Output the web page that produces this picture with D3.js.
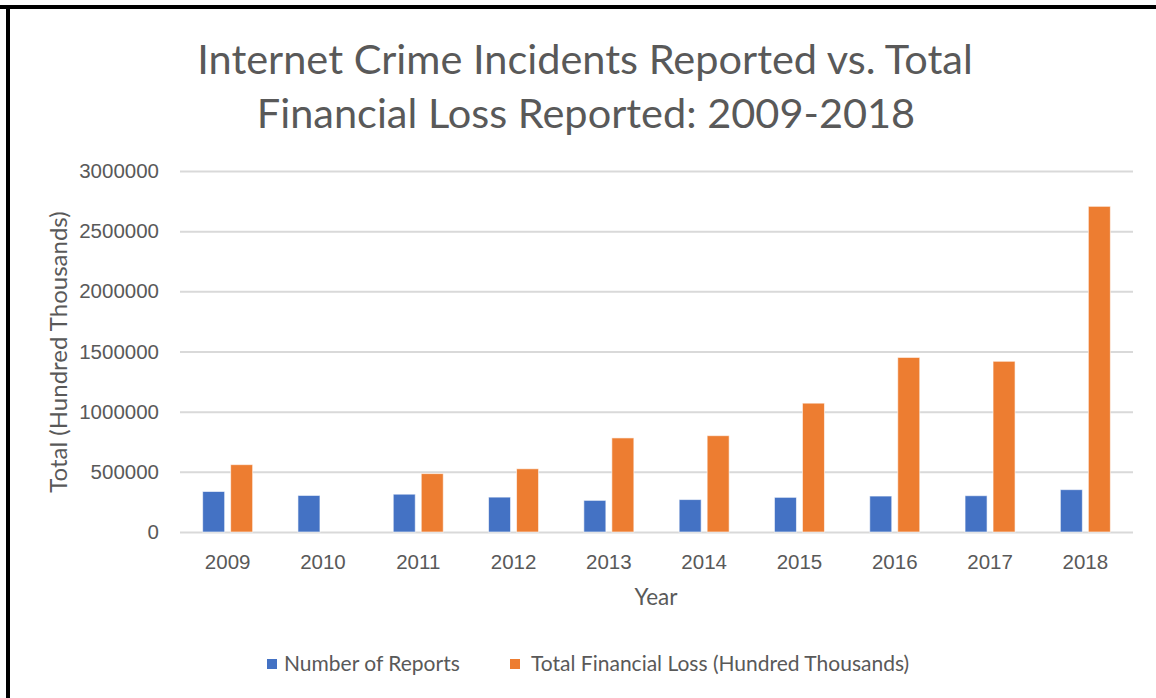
<!DOCTYPE html>
<html>
<head>
<meta charset="utf-8">
<script src="https://cdn.jsdelivr.net/npm/d3@7"></script>
<style>
  body { margin: 0; background: #fff; }
  svg { display: block; font-family: Lato, "Open Sans", sans-serif; }
  .tick text { fill: #595959; font-size: 20.5px; }
  .grid line { stroke: #d9d9d9; stroke-width: 2; }
  .grid .domain { display: none; }
</style>
</head>
<body>
<svg width="1156" height="698"></svg>
<script>
// chart values
const years = ['2009', '2010', '2011', '2012', '2013', '2014', '2015', '2016', '2017', '2018'];
const reports = [336655, 303809, 314246, 289874, 262813, 269422, 288012, 298728, 301580, 351937];
// no financial loss shown for 2010
const losses = [559700, null, 485300, 525400, 781800, 800500, 1070700, 1450700, 1418700, 2706400];
const seriesNames = ['Number of Reports', 'Total Financial Loss (Hundred Thousands)'];
const seriesColors = ['#4472c4', '#ed7d31'];
const yTicks = [0, 500000, 1000000, 1500000, 2000000, 2500000, 3000000];

const svg = d3.select('svg');

// frame lines (top and left only)
svg.append('rect').attr('x', 0).attr('y', 5).attr('width', 1156).attr('height', 4).attr('fill', '#000');
svg.append('rect').attr('x', 6).attr('y', 5).attr('width', 4).attr('height', 693).attr('fill', '#000');

// title
const title = svg.append('text')
    .attr('text-anchor', 'middle')
    .attr('fill', '#595959')
    .style('font-size', '41.5px');
title.append('tspan').attr('x', 585).attr('y', 74).text('Internet Crime Incidents Reported vs. Total');
title.append('tspan').attr('x', 586).attr('y', 128).text('Financial Loss Reported: 2009-2018');

const plot = { left: 180, right: 1133, top: 171, bottom: 532 };

const x0 = d3.scaleBand().domain(years).range([plot.left, plot.right]);
const groupW = 50;
const x1 = d3.scaleBand()
    .domain([0, 1])
    .range([x0.bandwidth() / 2 - groupW / 2, x0.bandwidth() / 2 + groupW / 2])
    .paddingInner(0.214);

const y = d3.scaleLinear().domain([0, 3000000]).range([plot.bottom, plot.top]);

// gridlines with tick labels
svg.append('g')
    .attr('class', 'grid')
    .attr('transform', `translate(${plot.left},0)`)
    .call(d3.axisLeft(y)
        .tickValues(yTicks)
        .tickFormat(d3.format('d'))
        .tickSize(-(plot.right - plot.left))
        .tickPadding(21));

// x labels
svg.append('g')
    .attr('transform', `translate(0,${plot.bottom})`)
    .call(d3.axisBottom(x0).tickSize(0).tickPadding(22))
    .call(g => g.select('.domain').remove());

// bars
const rows = years.map((yr, i) => ({ year: yr, values: [reports[i], losses[i]] }));

svg.append('g').selectAll('g')
    .data(rows)
    .join('g')
        .attr('transform', d => `translate(${x0(d.year)},0)`)
    .selectAll('rect')
    .data(d => d.values.map((v, s) => ({ v, s })).filter(e => e.v != null))
    .join('rect')
        .attr('x', d => x1(d.s))
        .attr('width', x1.bandwidth())
        .attr('y', d => y(d.v))
        .attr('height', d => y(0) - y(d.v))
        .attr('fill', d => seriesColors[d.s])
        .attr('stroke', '#fff')
        .attr('stroke-opacity', 0.6)
        .attr('stroke-width', 1);

// axis titles
svg.append('text')
    .attr('x', 656).attr('y', 605)
    .attr('text-anchor', 'middle')
    .attr('fill', '#595959')
    .style('font-size', '22.5px')
    .text('Year');

svg.append('text')
    .attr('transform', 'translate(67,352) rotate(-90)')
    .attr('text-anchor', 'middle')
    .attr('fill', '#595959')
    .style('font-size', '24px')
    .text('Total (Hundred Thousands)');

// legend
const legendX = [267, 510];
const legend = svg.append('g').selectAll('g')
    .data(seriesNames)
    .join('g')
        .attr('transform', (d, i) => `translate(${legendX[i]},664)`);

legend.append('rect')
    .attr('x', 0).attr('y', -5)
    .attr('width', 10).attr('height', 10)
    .attr('fill', (d, i) => seriesColors[i]);

legend.append('text')
    .attr('x', (d, i) => i === 0 ? 17 : 21)
    .attr('y', 7)
    .attr('fill', '#595959')
    .style('font-size', '21px')
    .text(d => d);
</script>
</body>
</html>
